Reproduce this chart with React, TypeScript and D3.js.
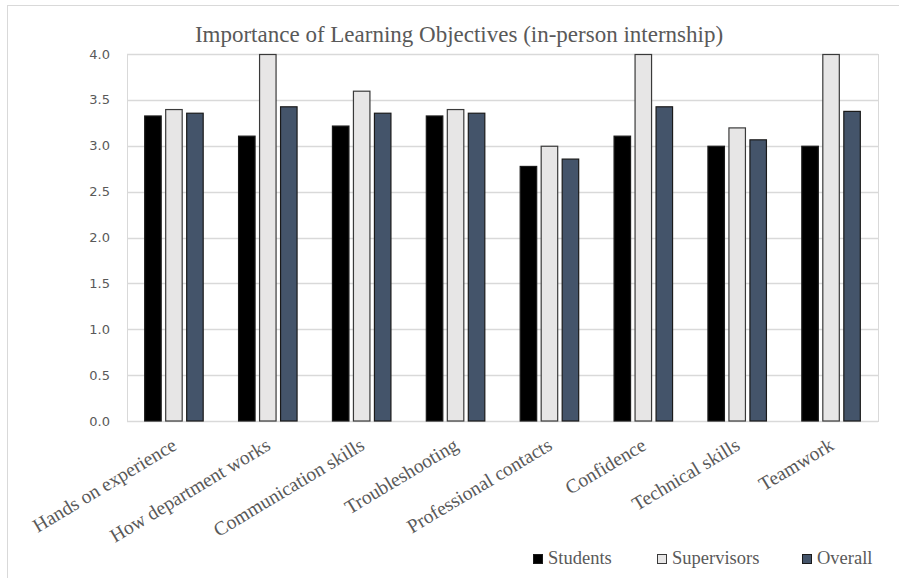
import React, { useRef, useEffect } from "react";
import * as d3 from "d3";

const categories = [
  "Hands on experience",
  "How department works",
  "Communication skills",
  "Troubleshooting",
  "Professional contacts",
  "Confidence",
  "Technical skills",
  "Teamwork",
];
const seriesNames = ["Students", "Supervisors", "Overall"];
const students = [3.33, 3.11, 3.22, 3.33, 2.78, 3.11, 3.0, 3.0];
const supervisors = [3.4, 4.0, 3.6, 3.4, 3.0, 4.0, 3.2, 4.0];
const overall = [3.36, 3.43, 3.36, 3.36, 2.86, 3.43, 3.07, 3.38];
const yTicks = [0, 0.5, 1, 1.5, 2, 2.5, 3, 3.5, 4];

const colors = ["#000000", "#e7e6e6", "#44546a"];
const textColor = "#595959";
const gridColor = "#d9d9d9";
const serif = "'Liberation Serif', 'Times New Roman', serif";

export default function App() {
  const ref = useRef<SVGSVGElement>(null);

  useEffect(() => {
    const svg = d3.select(ref.current);
    svg.selectAll("*").remove();

    const width = 899;
    const height = 578;
    const margin = { top: 54, right: 21, bottom: 157, left: 127 };
    const innerWidth = width - margin.left - margin.right;
    const innerHeight = height - margin.top - margin.bottom;
    const values = [students, supervisors, overall];

    // chart border
    svg
      .append("rect")
      .attr("x", 7.5)
      .attr("y", 5.5)
      .attr("width", 905)
      .attr("height", 590)
      .attr("fill", "white")
      .attr("stroke", gridColor);

    svg
      .append("text")
      .attr("x", 459)
      .attr("y", 42)
      .attr("text-anchor", "middle")
      .attr("font-family", serif)
      .attr("font-size", 23)
      .attr("fill", textColor)
      .text("Importance of Learning Objectives (in-person internship)");

    const x0 = d3.scaleBand().domain(categories).range([0, innerWidth]);
    const groupW = 59.5;
    const x1 = d3
      .scaleBand()
      .domain(seriesNames)
      .range([(x0.bandwidth() - groupW) / 2, (x0.bandwidth() + groupW) / 2])
      .paddingInner(0.1667);
    const y = d3.scaleLinear().domain([0, 4]).range([innerHeight, 0]);

    const g = svg
      .append("g")
      .attr("transform", `translate(${margin.left},${margin.top})`);

    g.selectAll("line.grid")
      .data(yTicks)
      .enter()
      .append("line")
      .attr("x1", 0)
      .attr("x2", innerWidth)
      .attr("y1", (d) => Math.round(y(d)) + 0.5)
      .attr("y2", (d) => Math.round(y(d)) + 0.5)
      .attr("stroke", gridColor)
      .attr("stroke-width", 1.3);

    g.append("rect")
      .attr("x", 0.5)
      .attr("y", Math.round(y(4)) + 0.5)
      .attr("width", innerWidth)
      .attr("height", Math.round(y(0)) - Math.round(y(4)))
      .attr("fill", "none")
      .attr("stroke", gridColor);

    g.selectAll("text.ytick")
      .data(yTicks)
      .enter()
      .append("text")
      .attr("x", -17)
      .attr("y", (d) => y(d))
      .attr("dy", "0.35em")
      .attr("text-anchor", "end")
      .attr("font-family", "'DejaVu Sans', sans-serif")
      .attr("font-size", 13)
      .attr("fill", textColor)
      .text((d) => d.toFixed(1));

    const groups = g
      .selectAll("g.cat")
      .data(categories)
      .enter()
      .append("g")
      .attr("transform", (d) => `translate(${x0(d)},0)`);

    groups
      .selectAll("rect")
      .data((_, i) => seriesNames.map((s, k) => ({ s, k, v: values[k][i] })))
      .enter()
      .append("rect")
      .attr("x", (d) => (x1(d.s) as number) + 0.5)
      .attr("y", (d) => y(d.v) + 0.5)
      .attr("width", x1.bandwidth() - 1)
      .attr("height", (d) => y(0) - y(d.v) - 0.5)
      .attr("fill", (d) => colors[d.k])
      .attr("stroke", (d) => (d.k === 1 ? "#3a3a3a" : "#1a1a1a"))
      .attr("stroke-width", 1.2);

    g.selectAll("text.xlab")
      .data(categories)
      .enter()
      .append("text")
      .attr(
        "transform",
        (d) =>
          `translate(${(x0(d) as number) + x0.bandwidth() / 2 - 3},${innerHeight + 16}) rotate(-31)`
      )
      .attr("text-anchor", "end")
      .attr("dy", "0.7em")
      .attr("font-family", serif)
      .attr("font-size", 19.5)
      .attr("fill", textColor)
      .text((d) => d);

    // legend
    const legendX = [533, 657, 802];
    const legend = svg
      .selectAll("g.legend")
      .data(seriesNames)
      .enter()
      .append("g")
      .attr("transform", (_, i) => `translate(${legendX[i]},554)`);
    legend
      .append("rect")
      .attr("x", 0.5)
      .attr("y", 0.5)
      .attr("width", 9)
      .attr("height", 9)
      .attr("fill", (_, i) => colors[i])
      .attr("stroke", (_, i) => (i === 1 ? "#3a3a3a" : "#1a1a1a"));
    legend
      .append("text")
      .attr("x", 15)
      .attr("y", 10)
      .attr("font-family", serif)
      .attr("font-size", 18.5)
      .attr("fill", textColor)
      .text((d) => d);
  }, []);

  return (
    <svg
      ref={ref}
      width={899}
      height={578}
      style={{ position: "fixed", left: 0, top: 0, background: "white" }}
    />
  );
}
